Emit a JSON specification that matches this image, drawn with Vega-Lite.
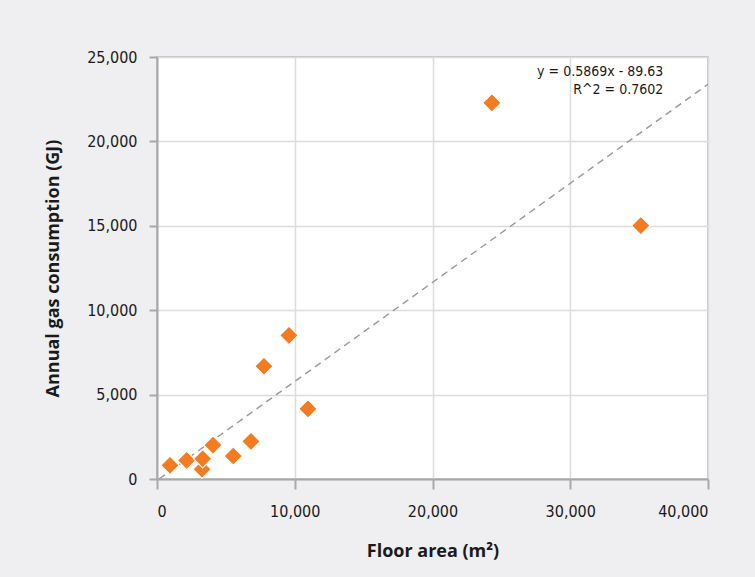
{
  "$schema": "https://vega.github.io/schema/vega-lite/v6.json",
  "width": 551,
  "height": 422,
  "autosize": "none",
  "padding": {"left": 157, "top": 57, "right": 47, "bottom": 98},
  "background": "#efeef1",
  "config": {
    "view": {"fill": "white", "stroke": "#b5b5b5", "strokeWidth": 1.5},
    "axis": {
      "labelFont": "DejaVu Sans Condensed",
      "labelFontSize": 16,
      "labelColor": "#1a1a1a",
      "titleFont": "Open Sans",
      "titleFontSize": 18,
      "titleFontWeight": "bold",
      "titleColor": "#1a1a1a",
      "domainColor": "#a8a8a8",
      "domainWidth": 2,
      "tickColor": "#a8a8a8",
      "tickWidth": 2,
      "gridColor": "#dcdcdc",
      "gridWidth": 1.5
    }
  },
  "datasets": {
    "pts": [
      {"area": 943, "gas": 810},
      {"area": 2155, "gas": 1105},
      {"area": 3270, "gas": 580},
      {"area": 3316, "gas": 1200},
      {"area": 4064, "gas": 2009},
      {"area": 5537, "gas": 1359},
      {"area": 6821, "gas": 2228},
      {"area": 10958, "gas": 4155},
      {"area": 7765, "gas": 6678},
      {"area": 9579, "gas": 8510},
      {"area": 24311, "gas": 22281},
      {"area": 35123, "gas": 15012}
    ],
    "trend": [
      {"area": 153, "gas": 0},
      {"area": 40000, "gas": 23386}
    ],
    "ann": [
      {"area": 36750, "gas": 24120, "label": "y = 0.5869x - 89.63"},
      {"area": 36750, "gas": 23030, "label": "R^2 = 0.7602"}
    ]
  },
  "layer": [
    {
      "data": {"name": "trend"},
      "mark": {"type": "line", "color": "#999999", "strokeWidth": 1.4, "strokeDash": [7, 5], "clip": true},
      "encoding": {
        "x": {"field": "area", "type": "quantitative", "scale": {"domain": [0, 40000], "nice": false},
          "axis": {"values": [0, 10000, 20000, 30000, 40000], "format": ",d", "title": "Floor area (m²)", "tickSize": 10, "labelPadding": 14, "titlePadding": 23}},
        "y": {"field": "gas", "type": "quantitative", "scale": {"domain": [0, 25000], "nice": false},
          "axis": {"values": [0, 5000, 10000, 15000, 20000, 25000], "format": ",d", "title": "Annual gas consumption (GJ)", "tickSize": 8, "labelPadding": 12, "titlePadding": 24}}
      }
    },
    {
      "data": {"name": "pts"},
      "mark": {"type": "point", "shape": "diamond", "filled": true, "size": 340, "color": "#f47b20", "opacity": 1, "stroke": "white", "strokeWidth": 1.2},
      "encoding": {
        "x": {"field": "area", "type": "quantitative"},
        "y": {"field": "gas", "type": "quantitative"}
      }
    },
    {
      "data": {"name": "ann"},
      "mark": {"type": "text", "align": "right", "baseline": "middle", "font": "DejaVu Sans Condensed", "fontSize": 14, "color": "#1a1a1a"},
      "encoding": {
        "x": {"field": "area", "type": "quantitative"},
        "y": {"field": "gas", "type": "quantitative"},
        "text": {"field": "label"}
      }
    }
  ]
}
